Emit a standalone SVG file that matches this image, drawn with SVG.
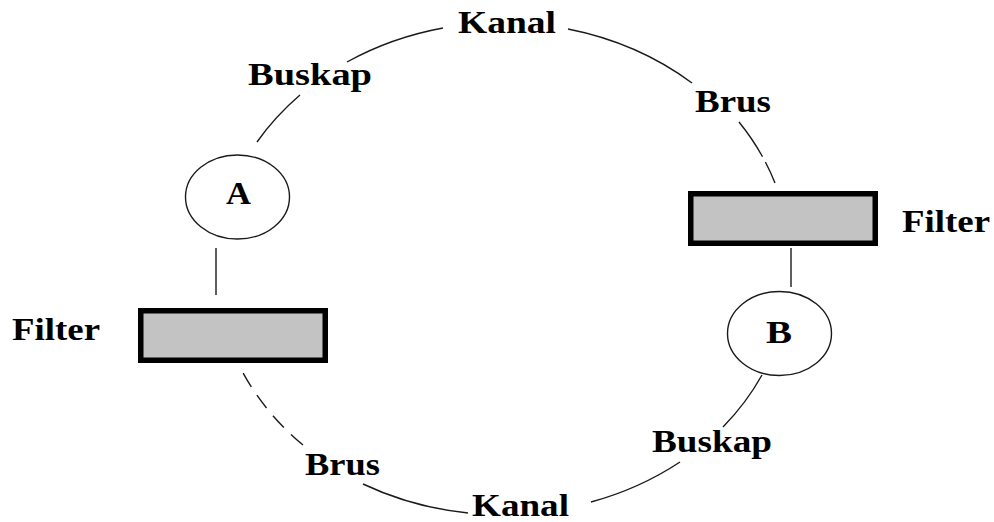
<svg xmlns="http://www.w3.org/2000/svg" width="994" height="522" viewBox="0 0 994 522">
  <style>
    .wire { fill: none; stroke: #1a1a1a; stroke-width: 1.4; }
    .node { fill: #ffffff; stroke: #1a1a1a; stroke-width: 1.4; }
    .filter { fill: #c3c3c3; stroke: #000000; stroke-width: 5.5; }
    .lbl { font-family: "Liberation Serif", "Times New Roman", serif; font-weight: bold; font-size: 31px; fill: #000000; }
  </style>
  <rect x="0" y="0" width="994" height="522" fill="#ffffff"/>

  <!-- ring of connecting arcs, all on one ellipse (cx 503, cy 268, rx 288, ry 246) -->
  <g id="connectors">
    <path class="wire" d="M257,142 A288,246 0 0 1 300,95"/>
    <path class="wire" d="M347,62 A288,246 0 0 1 443,28"/>
    <path class="wire" d="M568,29 A288,246 0 0 1 692,83"/>
    <path class="wire" d="M739,122 A288,246 0 0 1 775,183" stroke-dasharray="42 6 30"/>
    <path class="wire" d="M762,375 A288,246 0 0 1 723,427"/>
    <path class="wire" d="M680,462 A288,246 0 0 1 591,502"/>
    <path class="wire" d="M468,513 A288,246 0 0 1 363,484"/>
    <path class="wire" d="M303,445 A288,246 0 0 1 242,371" stroke-dasharray="16 10"/>
    <!-- short straight links between nodes and filters -->
    <line class="wire" x1="216" y1="248" x2="216" y2="295"/>
    <line class="wire" x1="791" y1="248" x2="791" y2="287"/>
  </g>

  <g id="node-A">
    <ellipse class="node" cx="237.5" cy="197" rx="52" ry="42"/>
    <text class="lbl" x="226" y="204" textLength="25" lengthAdjust="spacingAndGlyphs">A</text>
  </g>

  <g id="node-B">
    <ellipse class="node" cx="779.5" cy="333.5" rx="52" ry="42"/>
    <text class="lbl" x="766" y="343" textLength="26" lengthAdjust="spacingAndGlyphs">B</text>
  </g>

  <g id="filter-left">
    <rect class="filter" x="140.75" y="310.75" width="184.5" height="49.5"/>
    <text class="lbl" x="12" y="340" textLength="88" lengthAdjust="spacingAndGlyphs">Filter</text>
  </g>

  <g id="filter-right">
    <rect class="filter" x="690.75" y="193.75" width="184.5" height="49.5"/>
    <text class="lbl" x="902" y="232" textLength="88" lengthAdjust="spacingAndGlyphs">Filter</text>
  </g>

  <g id="labels">
    <text class="lbl" x="458" y="33" textLength="98" lengthAdjust="spacingAndGlyphs">Kanal</text>
    <text class="lbl" x="248" y="85" textLength="124" lengthAdjust="spacingAndGlyphs">Buskap</text>
    <text class="lbl" x="695" y="112" textLength="76" lengthAdjust="spacingAndGlyphs">Brus</text>
    <text class="lbl" x="652" y="452" textLength="120" lengthAdjust="spacingAndGlyphs">Buskap</text>
    <text class="lbl" x="305" y="475" textLength="75" lengthAdjust="spacingAndGlyphs">Brus</text>
    <text class="lbl" x="472" y="516" textLength="97" lengthAdjust="spacingAndGlyphs">Kanal</text>
  </g>
</svg>
